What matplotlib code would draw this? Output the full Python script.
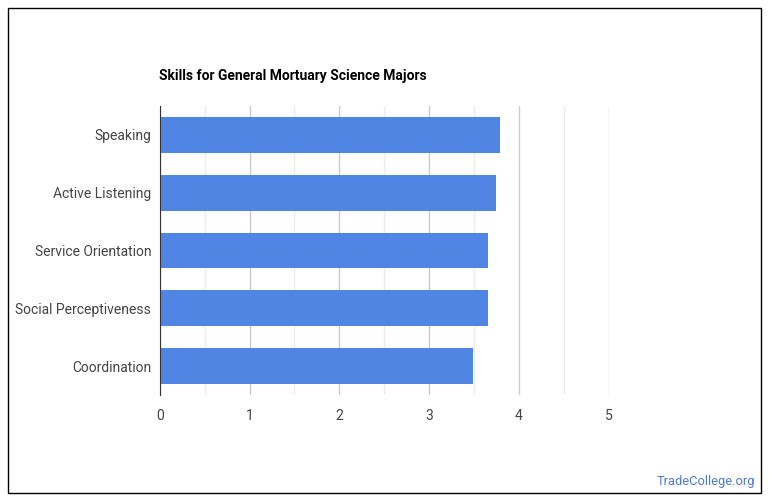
import matplotlib.pyplot as plt
import matplotlib.patches as patches
import matplotlib.ticker as ticker

# --- data ---
skills = ["Speaking", "Active Listening", "Service Orientation",
          "Social Perceptiveness", "Coordination"]
scores = [3.79, 3.75, 3.66, 3.66, 3.49]
x_ticks = [0, 1, 2, 3, 4, 5]

plt.rcParams['font.family'] = ['Roboto', 'DejaVu Sans']

W, H = 770, 503
fig = plt.figure(figsize=(W / 100, H / 100), dpi=100)

# outer frame
fig.patches.append(patches.Rectangle((8 / W, 1 - 493 / H), 753 / W, 485 / H,
                                     transform=fig.transFigure, fill=False,
                                     edgecolor='black', linewidth=1.0))

ax = fig.add_axes([159.7 / W, 1 - 395 / H, 449 / W, 289 / H])
y = list(range(len(skills)))
ax.barh(y, scores, height=0.62, color='#5185e4', zorder=3)
ax.set_ylim(len(skills) - 0.5, -0.5)
ax.set_xlim(0, 5)

ax.set_yticks(y)
ax.set_yticklabels(skills)
ax.set_xticks(x_ticks)
ax.xaxis.set_minor_locator(ticker.MultipleLocator(0.5))
ax.grid(axis='x', which='major', color='#cccccc', linewidth=1, zorder=0)
ax.grid(axis='x', which='minor', color='#ebebeb', linewidth=1, zorder=0)

for s in ['top', 'right', 'bottom']:
    ax.spines[s].set_visible(False)
ax.spines['left'].set_color('#333333')
ax.spines['left'].set_zorder(4)

ax.tick_params(axis='both', which='both', length=0, labelsize=10, colors='#444444')
ax.tick_params(axis='y', pad=6)
ax.tick_params(axis='x', pad=10)

fig.text(159 / W, 1 - 76 / H, "Skills for General Mortuary Science Majors",
         fontsize=10, fontweight='bold', color='black', va='center', ha='left')
fig.text(755 / W, 1 - 481 / H, "TradeCollege.org", fontsize=9.3,
         color='#4a7bd0', va='center', ha='right')

fig.savefig("out.png", dpi=100)
